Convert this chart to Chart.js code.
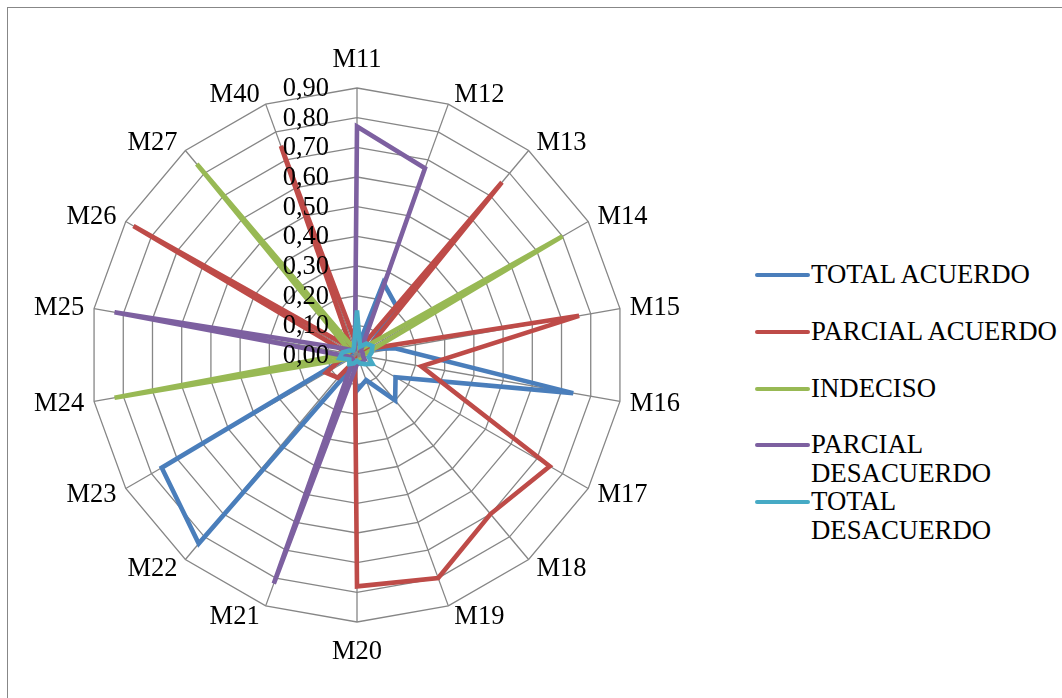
<!DOCTYPE html>
<html>
<head>
<meta charset="utf-8">
<script src="https://cdn.jsdelivr.net/npm/chart.js@4.4.1/dist/chart.umd.min.js"></script>
<style>
  html, body { margin: 0; padding: 0; background: #fff; overflow: hidden; }
  body { width: 1062px; height: 698px; position: relative; font-family: "Liberation Serif", "Times New Roman", serif; }
  #frame { position: absolute; left: 7px; top: 7px; width: 1100px; height: 760px; border: 1.5px solid #878787; box-sizing: border-box; }
  #chartBox { position: absolute; left: 0; top: 0; width: 714px; height: 698px; }
  #legend { position: absolute; left: 0; top: 0; }
  .item { position: absolute; left: 755px; width: 310px; }
  .swatch { position: absolute; left: 0; width: 55px; height: 4px; border-radius: 2px; }
  .name { position: absolute; left: 56px; width: 254px; font-size: 26.8px; line-height: 29px; color: #000; white-space: normal; }
</style>
</head>
<body>
<div id="frame"></div>
<div id="chartBox"><canvas id="chart"></canvas></div>
<div id="legend"></div>
<script>
// Items on the radial axes
const categories = ['M11','M12','M13','M14','M15','M16','M17','M18','M19','M20','M21','M22','M23','M24','M25','M26','M27','M40'];

// Share of answers per item
const totalAcuerdo      = [0.02, 0.26, 0.21, 0.04, 0.13, 0.74, 0.15, 0.20, 0.09, 0.12, 0.04, 0.83, 0.76, 0.03, 0.02, 0.03, 0.02, 0.03];
const parcialAcuerdo    = [0.03, 0.02, 0.76, 0.04, 0.76, 0.22, 0.75, 0.70, 0.80, 0.78, 0.02, 0.10, 0.12, 0.05, 0.03, 0.87, 0.03, 0.75];
const indeciso          = [0.02, 0.03, 0.03, 0.80, 0.03, 0.02, 0.02, 0.02, 0.02, 0.02, 0.02, 0.02, 0.02, 0.83, 0.03, 0.03, 0.84, 0.02];
const parcialDesacuerdo = [0.77, 0.67, 0.02, 0.02, 0.02, 0.02, 0.03, 0.03, 0.03, 0.03, 0.82, 0.02, 0.02, 0.03, 0.83, 0.04, 0.02, 0.02];
const totalDesacuerdo   = [0.15, 0.03, 0.05, 0.06, 0.05, 0.04, 0.06, 0.04, 0.03, 0.02, 0.03, 0.04, 0.03, 0.06, 0.05, 0.03, 0.02, 0.03];

const seriesNames  = ['TOTAL ACUERDO', 'PARCIAL ACUERDO', 'INDECISO', 'PARCIAL DESACUERDO', 'TOTAL DESACUERDO'];
const seriesValues = [totalAcuerdo, parcialAcuerdo, indeciso, parcialDesacuerdo, totalDesacuerdo];
const seriesColors = ['#4A7EBB', '#BE4B48', '#98B954', '#7D60A0', '#46AAC5'];

// Radial tick labels (0 to 0.9, step 0.1)
const tickLabels = ['0,00','0,10','0,20','0,30','0,40','0,50','0,60','0,70','0,80','0,90'];

const FONT = '"Liberation Serif", "Times New Roman", serif';

// Category labels set just outside the outer polygon, beside each spoke tip
const spokeLabelPlugin = {
  id: 'spokeLabels',
  afterDraw(chart) {
    const s = chart.scales.r;
    const ctx = chart.ctx;
    const n = s.getLabels().length;
    ctx.save();
    ctx.font = '26.5px ' + FONT;
    ctx.fillStyle = '#000';
    ctx.textBaseline = 'middle';
    for (let i = 0; i < n; i++) {
      const a = (2 * Math.PI * i) / n;
      const sin = Math.sin(a), cos = Math.cos(a);
      const tip = s.getPointPosition(i, s.drawingArea);
      let x, y;
      if (Math.abs(sin) < 0.01) {
        ctx.textAlign = 'center';
        x = tip.x;
        y = tip.y - (cos > 0 ? 28 : -30);
      } else {
        ctx.textAlign = sin > 0 ? 'left' : 'right';
        const gap = 4 + 6 * Math.abs(sin);
        x = tip.x + (sin > 0 ? gap : -gap);
        y = tip.y - 11 * cos + 1;
      }
      ctx.fillText(categories[i], x, y);
    }
    ctx.restore();
  }
};

// Tick labels drawn left of the vertical axis, over the lines
const tickLabelPlugin = {
  id: 'tickLabelsLeft',
  afterDatasetsDraw(chart) {
    const s = chart.scales.r;
    const ctx = chart.ctx;
    ctx.save();
    ctx.font = '26.5px ' + FONT;
    ctx.fillStyle = '#000';
    ctx.textAlign = 'right';
    ctx.textBaseline = 'middle';
    s.ticks.forEach((t, i) => {
      const y = s.yCenter - s.getDistanceFromCenterForValue(t.value);
      ctx.fillText(tickLabels[i], s.xCenter - 28, y + 1);
    });
    ctx.restore();
  }
};

new Chart(document.getElementById('chart'), {
  type: 'radar',
  data: {
    labels: categories,
    // later series are painted over earlier ones
    datasets: seriesNames.map((name, i) => ({
      label: name,
      data: seriesValues[i],
      order: seriesNames.length - i,
      borderColor: seriesColors[i],
      backgroundColor: seriesColors[i],
      borderWidth: 4.6,
      fill: false,
      tension: 0,
      pointRadius: 0,
      pointHoverRadius: 0,
      borderJoinStyle: 'miter'
    }))
  },
  options: {
    responsive: true,
    maintainAspectRatio: false,
    animation: false,
    layout: { padding: { top: 88, bottom: 76, left: 20, right: 20 } },
    plugins: { legend: { display: false }, tooltip: { enabled: false } },
    scales: {
      r: {
        min: 0,
        max: 0.9,
        ticks: { stepSize: 0.1, display: false },
        grid: { circular: false, color: '#868686', lineWidth: 1.3 },
        angleLines: { display: true, color: '#868686', lineWidth: 1.3 },
        pointLabels: { display: false }
      }
    }
  },
  plugins: [tickLabelPlugin, spokeLabelPlugin]
});

// Legend built from the series
const legend = document.getElementById('legend');
const legendTop = 275;
const legendStep = 56.75;
seriesNames.forEach((name, i) => {
  const item = document.createElement('div');
  item.className = 'item';
  item.style.top = (legendTop + i * legendStep) + 'px';
  const sw = document.createElement('div');
  sw.className = 'swatch';
  sw.style.background = seriesColors[i];
  sw.style.top = '-2px';
  const tx = document.createElement('div');
  tx.className = 'name';
  tx.style.top = '-15px';
  tx.textContent = name;
  item.appendChild(sw);
  item.appendChild(tx);
  legend.appendChild(item);
});
</script>
</body>
</html>
